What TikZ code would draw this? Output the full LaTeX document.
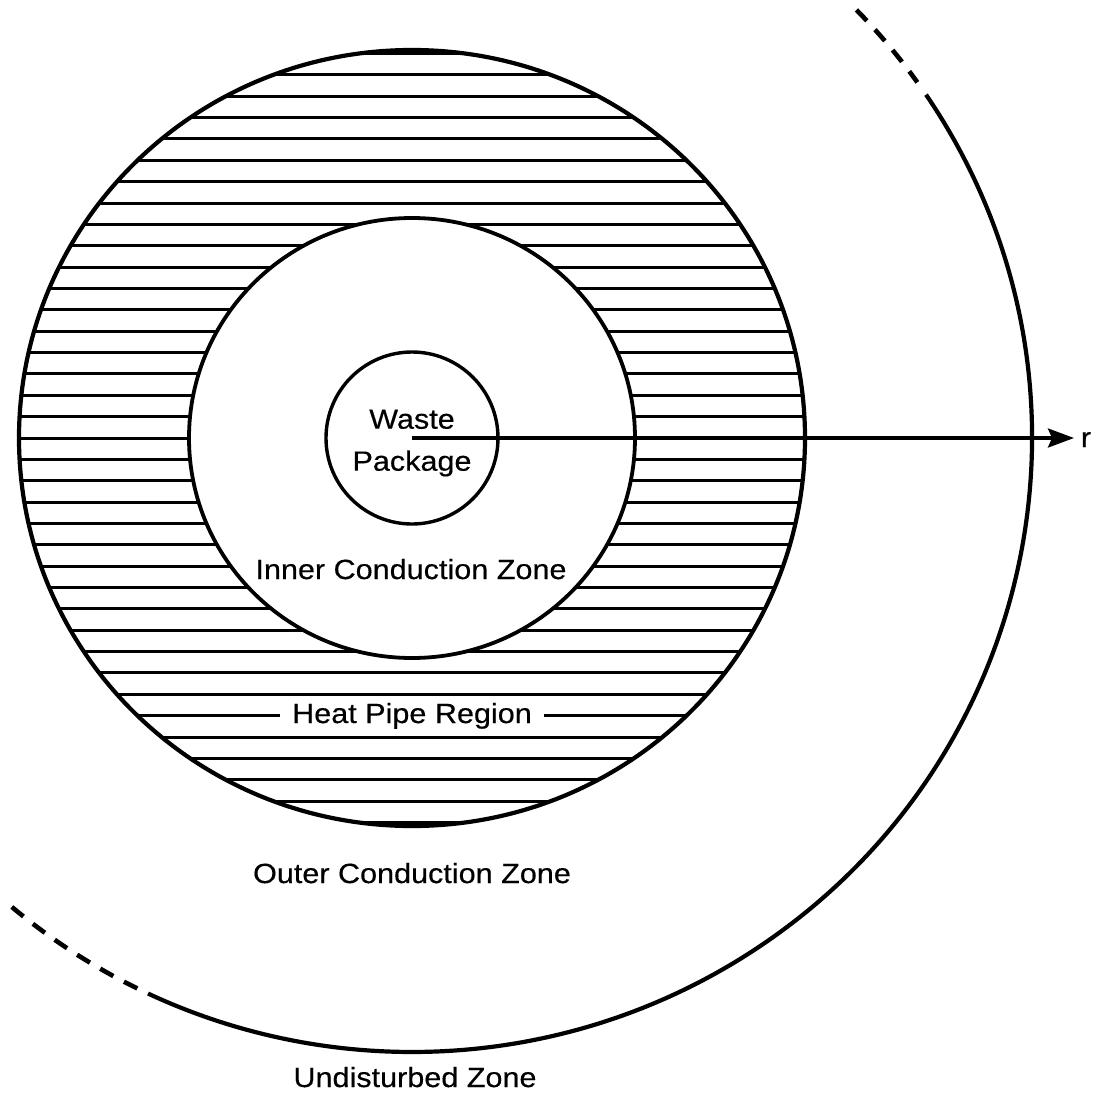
\documentclass[tikz,border=0pt]{standalone}
\usepackage{fontspec}
\setmainfont{Liberation Sans}[FakeStretch=1.1,FakeBold=0.4]
\usetikzlibrary{arrows.meta}
\begin{document}
\begin{tikzpicture}[x=0.5pt,y=0.5pt,
  lbl/.style={font=\fontsize{13.9}{21}\selectfont, inner sep=0pt},
  zone/.style={line width=1.9pt},
  hatch/.style={line width=1.5pt},
  bound/.style={line width=2.1pt},
  dashbound/.style={line width=2.3pt, dash pattern=on 7.5pt off 6pt},
  arrowline/.style={line width=1.6pt, -{Stealth[length=13pt, width=9.5pt, inset=2pt]}}
]
\useasboundingbox (-412,-655) rectangle (689,438);
% hatching of the heat pipe region
\begin{scope}[even odd rule]
  \clip (0,0) ellipse [x radius=393, y radius=388]
        (0,0) ellipse [x radius=223, y radius=220];
  \foreach \j in {-18,...,18} \draw[hatch] (-400,21.36*\j) -- (400,21.36*\j);
\end{scope}
% zone boundaries
\draw[bound] (0,0) ellipse [x radius=393, y radius=388];
\draw[zone] (0,0) ellipse [x radius=223, y radius=220];
\node[circle, draw, line width=1.7pt, minimum size=86pt, inner sep=0pt] (wp) at (0,0) {};
\node[lbl, align=center] (wpl) at ([yshift=-2.5pt]wp.center) {Waste\\Package};
% undisturbed zone boundary
\draw[bound] (34:620 and 614) arc [start angle=34, end angle=-115.2, x radius=620, y radius=614];
\draw[dashbound] (44.2:620 and 614) arc [start angle=44.2, end angle=35.4, x radius=620, y radius=614];
\draw[dashbound] (-130.2:620 and 614) arc [start angle=-130.2, end angle=-116.3, x radius=620, y radius=614];
% radial arrow
\coordinate (rtip) at (662,0);
\draw[arrowline] (wp.center) -- (rtip);
\node[lbl, anchor=base] (r) at (674,-9) {r};
% labels
\node[lbl, anchor=base] (icz) at (-1,-141) {Inner Conduction Zone};
\node[lbl, anchor=base, fill=white, inner xsep=6pt, inner ysep=1pt] (hpr) at (0,-285) {Heat Pipe Region};
\node[lbl, anchor=base] (ocz) at (0,-445) {Outer Conduction Zone};
\node[lbl, anchor=base] (udz) at (3,-649) {Undisturbed Zone};
\end{tikzpicture}
\end{document}
